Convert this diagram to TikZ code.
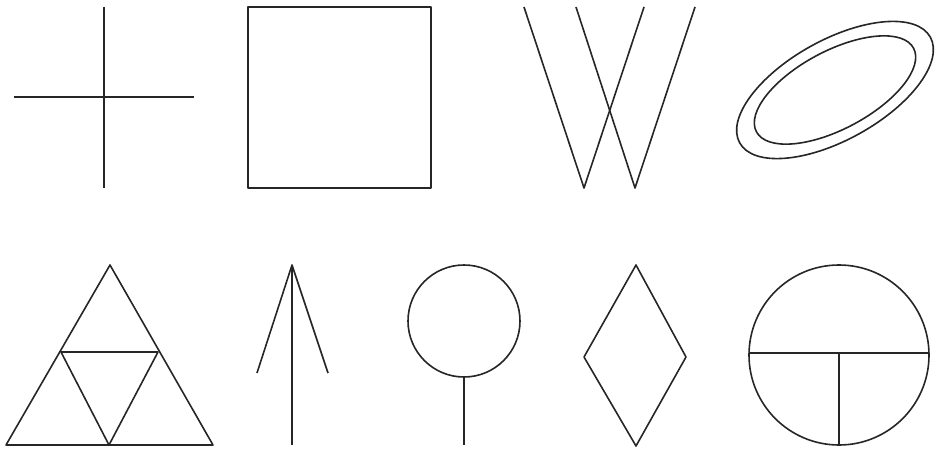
\documentclass[tikz,border=0pt]{standalone}
\usepackage{tikz}
\usetikzlibrary{calc}

\tikzset{
  figline/.style={line width=1.6pt, black!85, line join=round}
}

\begin{document}
\begin{tikzpicture}[x=1pt, y=-1pt]
\useasboundingbox (0,0) rectangle (935,452);

% Top row: cross
\draw[figline] (104,7) -- (104,188);
\draw[figline] (14,97) -- (194,97);

% square
\draw[figline] (248,7) rectangle (431,188);

% double V
\draw[figline] (524,7) -- (584,188) -- (644,7);
\draw[figline] (576,7) -- (635,188) -- (695,7);

% two tilted ellipses
\coordinate (ec) at (835,90);
\draw[figline, rotate around={29:(ec)}] (ec) ellipse [x radius=109, y radius=50];
\draw[figline, rotate around={28:(ec)}] (ec) ellipse [x radius=89, y radius=39];

% Bottom row: triangle in triangle
\draw[figline] (110,265) -- (213,445) -- (6,445) -- cycle;
\draw[figline] (61,352) -- (158,352) -- (109,445) -- cycle;

% arrow
\draw[figline] (292,265) -- (292,445);
\draw[figline] (257,373) -- (292,265) -- (328,373);

% circle on a stem
\coordinate (cc) at (464,321);
\draw[figline] (cc) circle [radius=56];
\draw[figline] (464,377) -- (464,445);

% diamond
\draw[figline] (636,265) -- (686,357) -- (636,446) -- (584,357) -- cycle;

% circle with a T
\coordinate (tc) at (839,355);
\draw[figline] (tc) circle [radius=90];
\draw[figline] (749,353) -- (929,353);
\draw[figline] (839,353) -- (839,445);
\end{tikzpicture}
\end{document}
